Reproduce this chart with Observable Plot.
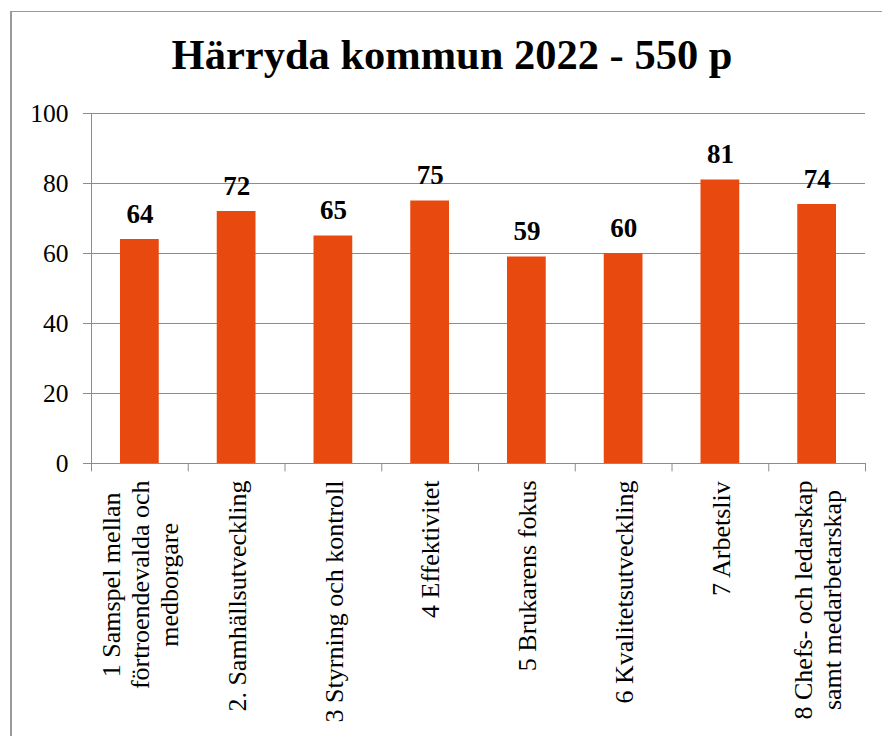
<!DOCTYPE html>
<html>
<head>
<meta charset="utf-8">
<script src="https://cdn.jsdelivr.net/npm/d3@7"></script>
<script src="https://cdn.jsdelivr.net/npm/@observablehq/plot@0.6"></script>
<style>
  html, body { margin: 0; padding: 0; background: #fff; }
  #wrap { position: relative; width: 882px; height: 736px; overflow: hidden; background: #fff; }
  #frame { position: absolute; left: 10px; top: 11px; width: 900px; height: 800px; border: 1px solid #9a9a9a; border-left-width: 2px; box-sizing: border-box; }
  #title { position: absolute; left: 0; top: 0; width: 904px; text-align: center; font-family: "Liberation Serif", "Times New Roman", serif; font-weight: bold; font-size: 42.5px; line-height: 42px; padding-top: 34px; color: #000; }
  #chart { position: absolute; left: 0; top: 0; }
</style>
</head>
<body>
<div id="wrap">
  <div id="frame"></div>
  <div id="chart"></div>
  <div id="title">Härryda kommun 2022 - 550 p</div>
</div>
<script>
const categories = [
  "1 Samspel mellan\nförtroendevalda och\nmedborgare",
  "2. Samhällsutveckling",
  "3 Styrning och kontroll",
  "4 Effektivitet",
  "5 Brukarens fokus",
  "6 Kvalitetsutveckling",
  "7 Arbetsliv",
  "8 Chefs- och ledarskap\nsamt medarbetarskap"
];
const values = [64, 72, 65, 75, 59, 60, 81, 74];
const yTicks = [0, 20, 40, 60, 80, 100];

const data = categories.map((c, i) => ({cat: c, idx: i, value: values[i]}));
const serif = "'Liberation Serif', 'Times New Roman', serif";
const labelSize = 26;

// measure longest line of each category label for centering the rotated block
const ctx = document.createElement("canvas").getContext("2d");
ctx.font = `${labelSize}px 'Liberation Serif'`;
const longest = categories.map(c => d3.max(c.split("\n"), l => ctx.measureText(l).width));

const labelMarks = data.map((d, i) =>
  Plot.text([d], {
    x: d => d.idx + 0.5, y: 0, text: "cat",
    rotate: -90, textAnchor: "middle", lineAnchor: "middle",
    lineHeight: 1.12,
    fontFamily: serif, fontSize: labelSize, fill: "#000",
    dy: 17 + longest[i] / 2
  })
);

const chart = Plot.plot({
  width: 882,
  height: 736,
  marginTop: 113,
  marginBottom: 273,
  marginLeft: 91,
  marginRight: 17,
  style: {fontFamily: serif, background: "transparent", overflow: "visible"},
  x: {type: "linear", domain: [0, categories.length], axis: null},
  y: {domain: [0, 100], ticks: yTicks, axis: null},
  marks: [
    Plot.ruleY(yTicks, {stroke: "#8c8c8c", strokeWidth: 1}),
    Plot.axisY({ticks: yTicks, label: null, tickSize: 8, tickPadding: 15, stroke: "#8c8c8c", fontFamily: serif, fontSize: 25.5, fill: "#000", tickFormat: d => String(d)}),
    Plot.ruleX([0], {y1: 0, y2: 100, stroke: "#8c8c8c"}),
    Plot.ruleX(d3.range(categories.length + 1), {y1: 0, y2: -2.4, stroke: "#8c8c8c"}),
    Plot.rectY(data, {x1: d => d.idx, x2: d => d.idx + 1, y: "value", fill: "#E8490F", insetLeft: 29, insetRight: 29}),
    Plot.text(data, {x: d => d.idx + 0.5, y: "value", text: d => String(d.value), dy: -17, lineAnchor: "bottom", fontFamily: serif, fontSize: 27, fontWeight: "bold", fill: "#000"}),
    ...labelMarks
  ]
});
document.getElementById("chart").appendChild(chart);
</script>
</body>
</html>
